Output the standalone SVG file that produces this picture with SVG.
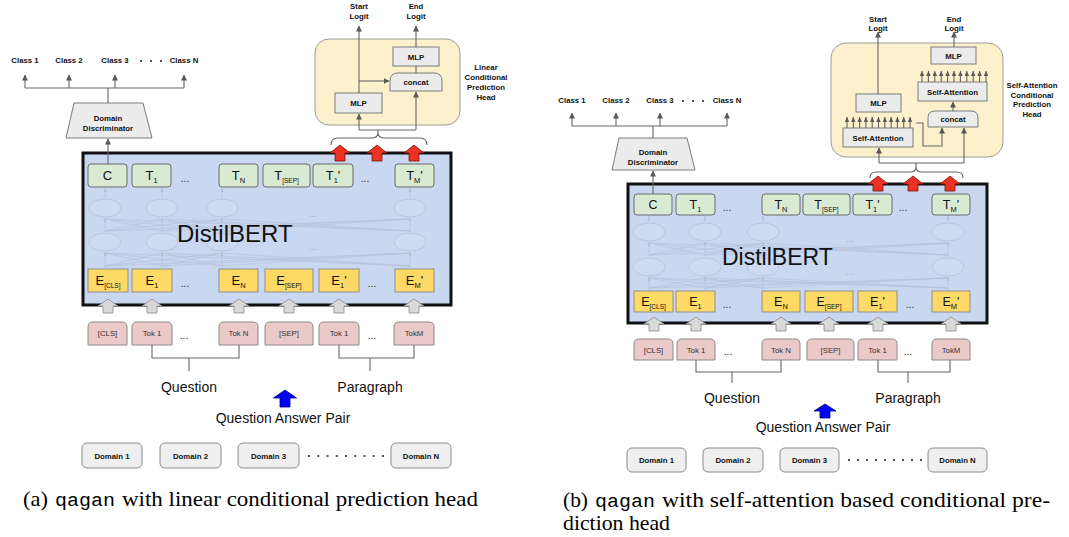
<svg xmlns="http://www.w3.org/2000/svg" width="1069" height="537" viewBox="0 0 1069 537">
<style>
.s{font-family:"Liberation Sans",Arial,sans-serif}
.b8{font-family:"Liberation Sans",Arial,sans-serif;font-weight:bold;font-size:7.8px;text-anchor:middle;fill:#111}
.tk{font-family:"Liberation Sans",Arial,sans-serif;font-size:7.8px;text-anchor:middle;fill:#333}
.tb{font-family:"Liberation Sans",Arial,sans-serif;font-size:13px;text-anchor:middle;fill:#111}
.tb2{font-family:"Liberation Sans",Arial,sans-serif;font-size:12.5px;text-anchor:middle;fill:#111}
.sub{font-size:7.5px}
.subs{font-size:6.5px}
.dt{font-family:"Liberation Sans",Arial,sans-serif;font-size:10px;text-anchor:middle;fill:#222}
.q{font-family:"Liberation Sans",Arial,sans-serif;font-size:14px;text-anchor:middle;fill:#111}
.cap{font-family:"Liberation Serif","Times New Roman",serif;font-size:21px;fill:#000}
.capm{font-family:"Liberation Mono","Courier New",monospace;font-size:19px;fill:#000}
.ln{fill:none;stroke:#666;stroke-width:1.1}
.fn{fill:none;stroke:#b4bfd8;stroke-width:0.6}
.el{fill:#cedaf2;stroke:#b6c1da;stroke-width:0.8}
.bert{fill:#c9d7f0;stroke:#111;stroke-width:3}
.tbox{fill:#d9ead3;stroke:#6a6a6a;stroke-width:1}
.ebox{fill:#ffd966;stroke:#8f8f8f;stroke-width:1}
.tok{fill:#ecc9c9;stroke:#8a8a8a;stroke-width:1}
.gbox{fill:#ececec;stroke:#7a7a7a;stroke-width:1}
.dom{fill:#efefef;stroke:#8a8a8a;stroke-width:1}
.head{fill:#fdf1cd;stroke:#9a9a9a;stroke-width:1}
.red{fill:#ea3323;stroke:#7a1208;stroke-width:0.8}
.gar{fill:#d9d9d9;stroke:#888;stroke-width:0.8}
.blu{fill:#0000ff;stroke:#00007a;stroke-width:0.8}
.dd{stroke:#555;stroke-width:2;fill:none}
.ft{font-family:"Liberation Sans",Arial,sans-serif;font-size:10px;text-anchor:middle;fill:#a3afca}
</style>
<defs>
<marker id="ah" markerWidth="6" markerHeight="6" refX="5.5" refY="3" orient="auto" markerUnits="userSpaceOnUse"><path d="M0,0 L6,3 L0,6 Z" fill="#595959"/></marker>
<marker id="ahs" markerWidth="5" markerHeight="5" refX="5" refY="2.25" orient="auto" markerUnits="userSpaceOnUse"><path d="M0,0 L5,2.25 L0,4.5 Z" fill="#595959"/></marker>
<marker id="ahf" markerWidth="4" markerHeight="4" refX="4" refY="1.5" orient="auto" markerUnits="userSpaceOnUse"><path d="M0,0 L4,1.5 L0,3 Z" fill="#b4bfd8"/></marker>
</defs>
<rect width="1069" height="537" fill="#fff"/>

<!-- ================= PANEL A ================= -->
<g id="a-classes">
<text class="b8" x="25" y="63">Class 1</text>
<text class="b8" x="69" y="63">Class 2</text>
<text class="b8" x="115" y="63">Class 3</text>
<text class="b8" x="184" y="63">Class N</text>
<line class="dd" x1="140" y1="61" x2="162" y2="61" stroke-dasharray="2,8"/>
</g>
<g id="a-disc">
<polygon points="74,103 143,103 152,138 66,138" class="gbox"/>
<text class="b8" x="108" y="121">Domain</text>
<text class="b8" x="108" y="131">Discriminator</text>
</g>
<g id="a-bert">
<rect x="83" y="153" width="368" height="152" class="bert"/>
<g>
<ellipse cx="105" cy="208" rx="16" ry="9" class="el"/><ellipse cx="162" cy="208" rx="16" ry="9" class="el"/><ellipse cx="222" cy="208" rx="16" ry="9" class="el"/><ellipse cx="410" cy="208" rx="16" ry="9" class="el"/>
<ellipse cx="105" cy="242" rx="16" ry="9" class="el"/><ellipse cx="162" cy="242" rx="16" ry="9" class="el"/><ellipse cx="222" cy="242" rx="16" ry="9" class="el"/><ellipse cx="410" cy="242" rx="16" ry="9" class="el"/>
<path class="fn" d="M105,266L162,253M105,266L222,253M105,266L410,253M162,266L105,253M162,266L222,253M162,266L410,253M222,266L105,253M222,266L162,253M222,266L410,253M410,266L105,253M410,266L162,253M410,266L222,253"/>
<path class="fn" d="M105,231L162,219M105,231L222,219M105,231L410,219M162,231L105,219M162,231L222,219M162,231L410,219M222,231L105,219M222,231L162,219M222,231L410,219M410,231L105,219M410,231L162,219M410,231L222,219"/>
<path class="fn" marker-end="url(#ahf)" d="M105,268V252"/><path class="fn" marker-end="url(#ahf)" d="M162,268V252"/><path class="fn" marker-end="url(#ahf)" d="M222,268V252"/><path class="fn" marker-end="url(#ahf)" d="M410,268V252"/>
<path class="fn" marker-end="url(#ahf)" d="M105,232V218"/><path class="fn" marker-end="url(#ahf)" d="M162,232V218"/><path class="fn" marker-end="url(#ahf)" d="M222,232V218"/><path class="fn" marker-end="url(#ahf)" d="M410,232V218"/>
<path class="fn" marker-end="url(#ahf)" d="M105,198V188"/><path class="fn" marker-end="url(#ahf)" d="M162,198V188"/><path class="fn" marker-end="url(#ahf)" d="M222,198V188"/><path class="fn" marker-end="url(#ahf)" d="M410,198V188"/>
<text x="313" y="217" class="ft">...</text>
<text x="313" y="250" class="ft">...</text>
</g>
<text x="177" y="242" class="s" font-size="24" fill="#111">DistilBERT</text>
</g>
<g id="a-T">
<rect x="88" y="164" width="39" height="23" rx="3" class="tbox"/><text class="tb" x="107.5" y="180">C</text>
<rect x="132" y="164" width="39" height="23" rx="3" class="tbox"/><text class="tb" x="151.5" y="180">T<tspan class="sub" dy="3">1</tspan></text>
<text class="dt" x="185" y="182">...</text>
<rect x="219" y="164" width="39" height="23" rx="3" class="tbox"/><text class="tb" x="238.5" y="180">T<tspan class="sub" dy="3">N</tspan></text>
<rect x="263" y="164" width="47" height="23" rx="3" class="tbox"/><text class="tb" x="286.5" y="180">T<tspan class="subs" dy="3">[SEP]</tspan></text>
<rect x="313" y="164" width="40" height="23" rx="3" class="tbox"/><text class="tb" x="333" y="180">T<tspan class="sub" dy="3">1</tspan><tspan dy="-3">'</tspan></text>
<text class="dt" x="365" y="182">...</text>
<rect x="395" y="164" width="39" height="23" rx="3" class="tbox"/><text class="tb" x="414.5" y="180">T<tspan class="sub" dy="3">M</tspan><tspan dy="-3">'</tspan></text>
</g>
<g id="a-E">
<rect x="88" y="269" width="40" height="23" class="ebox"/><text class="tb" x="108" y="285">E<tspan class="subs" dy="3">[CLS]</tspan></text>
<rect x="132" y="269" width="40" height="23" class="ebox"/><text class="tb" x="152" y="285">E<tspan class="sub" dy="3">1</tspan></text>
<text class="dt" x="185" y="287">...</text>
<rect x="219" y="269" width="39" height="23" class="ebox"/><text class="tb" x="238.5" y="285">E<tspan class="sub" dy="3">N</tspan></text>
<rect x="265" y="269" width="48" height="23" class="ebox"/><text class="tb" x="289" y="285">E<tspan class="subs" dy="3">[SEP]</tspan></text>
<rect x="319" y="269" width="40" height="23" class="ebox"/><text class="tb" x="339" y="285">E<tspan class="sub" dy="3">1</tspan><tspan dy="-3">'</tspan></text>
<text class="dt" x="372" y="287">...</text>
<rect x="395" y="269" width="39" height="23" class="ebox"/><text class="tb" x="414.5" y="285">E<tspan class="sub" dy="3">M</tspan><tspan dy="-3">'</tspan></text>
</g>
<g id="a-tokens">
<path class="tok" d="M88,345V327Q88,322 93,322H122Q127,322 127,327V345Z"/><text class="tk" x="107.5" y="336">[CLS]</text>
<path class="tok" d="M132,345V327Q132,322 137,322H167Q172,322 172,327V345Z"/><text class="tk" x="152" y="336">Tok 1</text>
<text class="dt" x="184" y="339">...</text>
<path class="tok" d="M219,345V327Q219,322 224,322H253Q258,322 258,327V345Z"/><text class="tk" x="238.5" y="336">Tok N</text>
<path class="tok" d="M265,345V327Q265,322 270,322H308Q313,322 313,327V345Z"/><text class="tk" x="289" y="336">[SEP]</text>
<path class="tok" d="M319,345V327Q319,322 324,322H354Q359,322 359,327V345Z"/><text class="tk" x="339" y="336">Tok 1</text>
<text class="dt" x="372" y="339">...</text>
<path class="tok" d="M394,345V327Q394,322 399,322H429Q434,322 434,327V345Z"/><text class="tk" x="414" y="336">TokM</text>
</g>
<g id="a-labels">
<text class="q" x="189" y="392">Question</text>
<text class="q" x="370" y="392">Paragraph</text>
<text class="q" x="283" y="423">Question Answer Pair</text>
</g>
<g id="a-head">
<rect x="315" y="39" width="145" height="86" rx="14" class="head"/>
<rect x="335" y="93" width="47" height="20" class="gbox"/><text class="b8" x="358.5" y="106">MLP</text>
<path class="gbox" d="M390,91V81Q390,73 398,73H434Q442,73 442,81V91Z"/><text class="b8" x="416" y="85">concat</text>
<rect x="393" y="47" width="46" height="19" class="gbox"/><text class="b8" x="416" y="59.5">MLP</text>
<text class="b8" x="359" y="9">Start</text><text class="b8" x="359" y="19">Logit</text>
<text class="b8" x="416" y="9">End</text><text class="b8" x="416" y="19">Logit</text>
<text class="b8" x="486" y="70">Linear</text><text class="b8" x="486" y="80">Conditional</text><text class="b8" x="486" y="90">Prediction</text><text class="b8" x="486" y="100">Head</text>
</g>
<g id="a-domains">
<rect x="82" y="443" width="60" height="25" rx="5" class="dom"/><text class="b8" x="112" y="458.5">Domain 1</text>
<rect x="160" y="443" width="61" height="25" rx="5" class="dom"/><text class="b8" x="190.5" y="458.5">Domain 2</text>
<rect x="238" y="443" width="61" height="25" rx="5" class="dom"/><text class="b8" x="268.5" y="458.5">Domain 3</text>
<line class="dd" x1="308" y1="456" x2="384" y2="456" stroke-dasharray="2,7.25"/>
<rect x="391" y="443" width="60" height="25" rx="5" class="dom"/><text class="b8" x="421" y="458.5">Domain N</text>
</g>
<g id="a-connectors">
<path class="ln" d="M25,88H184M108,103V88"/>
<path class="ln" marker-end="url(#ah)" d="M25,88V75"/><path class="ln" marker-end="url(#ah)" d="M69,88V75"/><path class="ln" marker-end="url(#ah)" d="M115,88V75"/><path class="ln" marker-end="url(#ah)" d="M184,88V75"/>
<path class="ln" marker-end="url(#ah)" d="M108,164V139"/>
<path class="ln" d="M331,145Q331,138 338,138L371,138Q378,138 378,133Q378,138 385,138L420,138Q427,138 427,145M378,133V130M359,130H416"/>
<path class="ln" marker-end="url(#ah)" d="M359,130V114"/>
<path class="ln" marker-end="url(#ah)" d="M416,130V92"/>
<path class="ln" marker-end="url(#ah)" d="M359,93V26"/>
<path class="ln" marker-end="url(#ah)" d="M359,81H389"/>
<path class="ln" d="M416,73V66"/>
<path class="ln" marker-end="url(#ah)" d="M416,47V26"/>
<path class="red" d="M340,145L350,153H345V161H335V153H330Z"/>
<path class="red" d="M377,145L387,153H382V161H372V153H367Z"/>
<path class="red" d="M414,145L424,153H419V161H409V153H404Z"/>
<path class="gar" d="M108,299L118,306H113V313H103V306H98Z"/>
<path class="gar" d="M152,299L162,306H157V313H147V306H142Z"/>
<path class="gar" d="M239,299L249,306H244V313H234V306H229Z"/>
<path class="gar" d="M289,299L299,306H294V313H284V306H279Z"/>
<path class="gar" d="M339,299L349,306H344V313H334V306H329Z"/>
<path class="gar" d="M414,299L424,306H419V313H409V306H404Z"/>
<path class="ln" d="M152,345V358H239V345M189,358V371"/>
<path class="ln" d="M339,345V358H414V345M370,358V371"/>
<path class="blu" d="M285,390L296.5,398H290V407H280V398H273.5Z"/>
</g>

<!-- ================= PANEL B ================= -->
<g id="b-classes">
<text class="b8" x="572" y="103">Class 1</text>
<text class="b8" x="616" y="103">Class 2</text>
<text class="b8" x="660" y="103">Class 3</text>
<text class="b8" x="727" y="103">Class N</text>
<line class="dd" x1="682" y1="101" x2="704" y2="101" stroke-dasharray="2,8"/>
</g>
<g id="b-disc">
<polygon points="619,138 687,138 695,170 612,170" class="gbox"/>
<text class="b8" x="653" y="155">Domain</text>
<text class="b8" x="653" y="164.5">Discriminator</text>
</g>
<g id="b-bert">
<rect x="628" y="184" width="359" height="139" class="bert"/>
<g>
<ellipse cx="649" cy="232" rx="16" ry="9" class="el"/><ellipse cx="705" cy="232" rx="16" ry="9" class="el"/><ellipse cx="763" cy="232" rx="16" ry="9" class="el"/><ellipse cx="948" cy="232" rx="16" ry="9" class="el"/>
<ellipse cx="649" cy="267" rx="16" ry="9" class="el"/><ellipse cx="705" cy="267" rx="16" ry="9" class="el"/><ellipse cx="763" cy="267" rx="16" ry="9" class="el"/><ellipse cx="948" cy="267" rx="16" ry="9" class="el"/>
<path class="fn" d="M649,288L705,278M649,288L763,278M649,288L948,278M705,288L649,278M705,288L763,278M705,288L948,278M763,288L649,278M763,288L705,278M763,288L948,278M948,288L649,278M948,288L705,278M948,288L763,278"/>
<path class="fn" d="M649,255L705,243M649,255L763,243M649,255L948,243M705,255L649,243M705,255L763,243M705,255L948,243M763,255L649,243M763,255L705,243M763,255L948,243M948,255L649,243M948,255L705,243M948,255L763,243"/>
<path class="fn" marker-end="url(#ahf)" d="M649,290V277"/><path class="fn" marker-end="url(#ahf)" d="M705,290V277"/><path class="fn" marker-end="url(#ahf)" d="M763,290V277"/><path class="fn" marker-end="url(#ahf)" d="M948,290V277"/>
<path class="fn" marker-end="url(#ahf)" d="M649,257V242"/><path class="fn" marker-end="url(#ahf)" d="M705,257V242"/><path class="fn" marker-end="url(#ahf)" d="M763,257V242"/><path class="fn" marker-end="url(#ahf)" d="M948,257V242"/>
<path class="fn" marker-end="url(#ahf)" d="M649,222V216"/><path class="fn" marker-end="url(#ahf)" d="M705,222V216"/><path class="fn" marker-end="url(#ahf)" d="M763,222V216"/><path class="fn" marker-end="url(#ahf)" d="M948,222V216"/>
<text x="850" y="242" class="ft">...</text>
<text x="850" y="275" class="ft">...</text>
</g>
<text x="722" y="265" class="s" font-size="23" fill="#111">DistilBERT</text>
</g>
<g id="b-T">
<rect x="634" y="194" width="38" height="21" rx="3" class="tbox"/><text class="tb2" x="653" y="209">C</text>
<rect x="676" y="194" width="39" height="21" rx="3" class="tbox"/><text class="tb2" x="695.5" y="209">T<tspan class="sub" dy="3">1</tspan></text>
<text class="dt" x="727" y="211">...</text>
<rect x="762" y="194" width="38" height="21" rx="3" class="tbox"/><text class="tb2" x="781" y="209">T<tspan class="sub" dy="3">N</tspan></text>
<rect x="803" y="194" width="47" height="21" rx="3" class="tbox"/><text class="tb2" x="826.5" y="209">T<tspan class="subs" dy="3">[SEP]</tspan></text>
<rect x="853" y="194" width="39" height="21" rx="3" class="tbox"/><text class="tb2" x="872.5" y="209">T<tspan class="sub" dy="3">1</tspan><tspan dy="-3">'</tspan></text>
<text class="dt" x="903" y="211">...</text>
<rect x="932" y="194" width="38" height="21" rx="3" class="tbox"/><text class="tb2" x="951" y="209">T<tspan class="sub" dy="3">M</tspan><tspan dy="-3">'</tspan></text>
</g>
<g id="b-E">
<rect x="634" y="291" width="39" height="21" class="ebox"/><text class="tb2" x="653.5" y="306">E<tspan class="subs" dy="3">[CLS]</tspan></text>
<rect x="676" y="291" width="39" height="21" class="ebox"/><text class="tb2" x="695.5" y="306">E<tspan class="sub" dy="3">1</tspan></text>
<text class="dt" x="727" y="308">...</text>
<rect x="762" y="291" width="38" height="21" class="ebox"/><text class="tb2" x="781" y="306">E<tspan class="sub" dy="3">N</tspan></text>
<rect x="805" y="291" width="48" height="21" class="ebox"/><text class="tb2" x="829" y="306">E<tspan class="subs" dy="3">[SEP]</tspan></text>
<rect x="858" y="291" width="39" height="21" class="ebox"/><text class="tb2" x="877.5" y="306">E<tspan class="sub" dy="3">1</tspan><tspan dy="-3">'</tspan></text>
<text class="dt" x="910" y="308">...</text>
<rect x="932" y="291" width="38" height="21" class="ebox"/><text class="tb2" x="951" y="306">E<tspan class="sub" dy="3">M</tspan><tspan dy="-3">'</tspan></text>
</g>
<g id="b-tokens">
<path class="tok" d="M634,360V344Q634,339 639,339H668Q673,339 673,344V360Z"/><text class="tk" x="653.5" y="352.5">[CLS]</text>
<path class="tok" d="M677,360V344Q677,339 682,339H710Q715,339 715,344V360Z"/><text class="tk" x="696" y="352.5">Tok 1</text>
<text class="dt" x="728" y="355">...</text>
<path class="tok" d="M762,360V344Q762,339 767,339H795Q800,339 800,344V360Z"/><text class="tk" x="781" y="352.5">Tok N</text>
<path class="tok" d="M807,360V344Q807,339 812,339H849Q854,339 854,344V360Z"/><text class="tk" x="830.5" y="352.5">[SEP]</text>
<path class="tok" d="M858,360V344Q858,339 863,339H892Q897,339 897,344V360Z"/><text class="tk" x="877.5" y="352.5">Tok 1</text>
<text class="dt" x="908" y="355">...</text>
<path class="tok" d="M932,360V344Q932,339 937,339H965Q970,339 970,344V360Z"/><text class="tk" x="951" y="352.5">TokM</text>
</g>
<g id="b-labels">
<text class="q" x="732" y="403">Question</text>
<text class="q" x="908" y="403">Paragraph</text>
<text class="q" x="823" y="432">Question Answer Pair</text>
</g>
<g id="b-head">
<rect x="831" y="43" width="172" height="114" rx="15" class="head"/>
<rect x="843" y="128" width="70" height="19" class="gbox"/><text class="b8" x="878" y="140.5">Self-Attention</text>
<rect x="856" y="94" width="45" height="18" class="gbox"/><text class="b8" x="878.5" y="106">MLP</text>
<path class="gbox" d="M928,127V118Q928,111 935,111H971Q978,111 978,118V127Z"/><text class="b8" x="953" y="122">concat</text>
<rect x="918" y="82" width="69" height="19" class="gbox"/><text class="b8" x="952.5" y="94.5">Self-Attention</text>
<rect x="931" y="47" width="45" height="17" class="gbox"/><text class="b8" x="953.5" y="58.5">MLP</text>
<text class="b8" x="878" y="22">Start</text><text class="b8" x="878" y="31">Logit</text>
<text class="b8" x="954" y="22">End</text><text class="b8" x="954" y="31">Logit</text>
<text class="b8" x="1032" y="88">Self-Attention</text><text class="b8" x="1032" y="98">Conditional</text><text class="b8" x="1032" y="107">Prediction</text><text class="b8" x="1032" y="117">Head</text>
</g>
<g id="b-domains">
<rect x="627" y="448" width="59" height="24" rx="5" class="dom"/><text class="b8" x="656.5" y="463">Domain 1</text>
<rect x="703" y="448" width="60" height="24" rx="5" class="dom"/><text class="b8" x="733" y="463">Domain 2</text>
<rect x="780" y="448" width="59" height="24" rx="5" class="dom"/><text class="b8" x="809.5" y="463">Domain 3</text>
<line class="dd" x1="848" y1="460" x2="922" y2="460" stroke-dasharray="2,7"/>
<rect x="928" y="448" width="59" height="24" rx="5" class="dom"/><text class="b8" x="957.5" y="463">Domain N</text>
</g>
<g id="b-connectors">
<path class="ln" d="M572,126H727M653,138V126"/>
<path class="ln" marker-end="url(#ah)" d="M572,126V113"/><path class="ln" marker-end="url(#ah)" d="M616,126V113"/><path class="ln" marker-end="url(#ah)" d="M660,126V113"/><path class="ln" marker-end="url(#ah)" d="M727,126V113"/>
<path class="ln" marker-end="url(#ah)" d="M653,194V171"/>
<path class="ln" d="M870,178Q870,172 876,172L910,172Q916,172 916,167Q916,172 922,172L957,172Q963,172 963,178M916,167V163M879,163H964"/>
<path class="ln" marker-end="url(#ah)" d="M879,163V148"/>
<path class="ln" marker-end="url(#ah)" d="M964,163V128"/>
<path class="ln" marker-end="url(#ah)" d="M916,123H923V146H942V128"/>
<path class="ln" marker-end="url(#ah)" d="M953,111V102"/>
<path class="ln" marker-end="url(#ah)" d="M878,94V32"/>
<path class="ln" marker-end="url(#ah)" d="M954,47V32"/>
<path class="ln" marker-end="url(#ahs)" d="M847,128V117"/><path class="ln" marker-end="url(#ahs)" d="M853.3,128V117"/><path class="ln" marker-end="url(#ahs)" d="M859.6,128V117"/><path class="ln" marker-end="url(#ahs)" d="M865.9,128V117"/><path class="ln" marker-end="url(#ahs)" d="M872.2,128V117"/><path class="ln" marker-end="url(#ahs)" d="M878.5,128V117"/><path class="ln" marker-end="url(#ahs)" d="M884.8,128V117"/><path class="ln" marker-end="url(#ahs)" d="M891.1,128V117"/><path class="ln" marker-end="url(#ahs)" d="M897.4,128V117"/><path class="ln" marker-end="url(#ahs)" d="M903.7,128V117"/><path class="ln" marker-end="url(#ahs)" d="M910,128V117"/>
<path class="ln" marker-end="url(#ahs)" d="M922,82V71"/><path class="ln" marker-end="url(#ahs)" d="M928.4,82V71"/><path class="ln" marker-end="url(#ahs)" d="M934.8,82V71"/><path class="ln" marker-end="url(#ahs)" d="M941.2,82V71"/><path class="ln" marker-end="url(#ahs)" d="M947.6,82V71"/><path class="ln" marker-end="url(#ahs)" d="M954,82V71"/><path class="ln" marker-end="url(#ahs)" d="M960.4,82V71"/><path class="ln" marker-end="url(#ahs)" d="M966.8,82V71"/><path class="ln" marker-end="url(#ahs)" d="M973.2,82V71"/><path class="ln" marker-end="url(#ahs)" d="M979.6,82V71"/><path class="ln" marker-end="url(#ahs)" d="M986,82V71"/>
<path class="red" d="M878,176L888,184H883V191H873V184H868Z"/>
<path class="red" d="M913,176L923,184H918V191H908V184H903Z"/>
<path class="red" d="M950,176L960,184H955V191H945V184H940Z"/>
<path class="gar" d="M654,317L664,324H659V331H649V324H644Z"/>
<path class="gar" d="M696,317L706,324H701V331H691V324H686Z"/>
<path class="gar" d="M781,317L791,324H786V331H776V324H771Z"/>
<path class="gar" d="M829,317L839,324H834V331H824V324H819Z"/>
<path class="gar" d="M878,317L888,324H883V331H873V324H868Z"/>
<path class="gar" d="M951,317L961,324H956V331H946V324H941Z"/>
<path class="ln" d="M696,360V372H781V360M732,372V383"/>
<path class="ln" d="M878,360V372H950V360M908,372V383"/>
<path class="blu" d="M825,404L836,411H830V418H820V411H814Z"/>
</g>

<g id="captions">
<text class="cap" x="23" y="506" textLength="25" lengthAdjust="spacingAndGlyphs">(a)</text>
<text class="capm" x="55" y="506" textLength="60" lengthAdjust="spacingAndGlyphs">qagan</text>
<text class="cap" x="122" y="506" textLength="356" lengthAdjust="spacingAndGlyphs">with linear conditional prediction head</text>
<text class="cap" x="563" y="507" textLength="25" lengthAdjust="spacingAndGlyphs">(b)</text>
<text class="capm" x="595" y="507" textLength="60" lengthAdjust="spacingAndGlyphs">qagan</text>
<text class="cap" x="662" y="507" textLength="388" lengthAdjust="spacingAndGlyphs">with self-attention based conditional pre-</text>
<text class="cap" x="563" y="530" textLength="107" lengthAdjust="spacingAndGlyphs">diction head</text>
</g>
</svg>
